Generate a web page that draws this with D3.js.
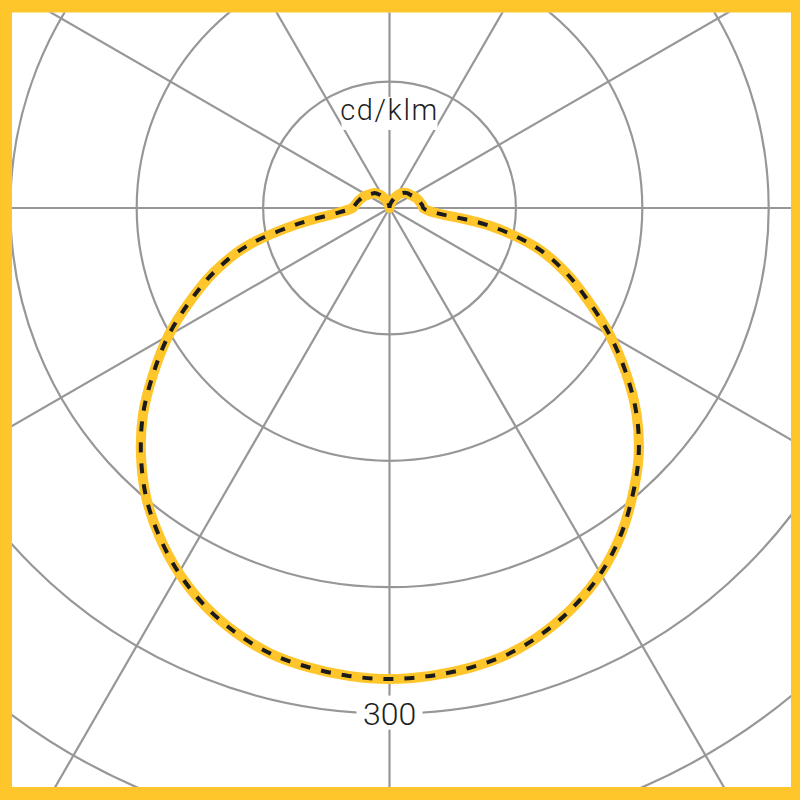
<!DOCTYPE html>
<html>
<head>
<meta charset="utf-8">
<script src="https://cdn.jsdelivr.net/npm/d3@7"></script>
<style>
  body { margin: 0; background: #fff; }
  svg { display: block; }
</style>
</head>
<body>
<svg id="chart" width="800" height="800"></svg>
<script>
// the data: gamma angle from nadir (deg) and intensity in cd/klm
const gammaDeg = [0, 5, 10, 15, 20, 25, 30, 35, 40, 45, 50, 55, 60, 65, 70, 75, 80, 85, 90,
  95, 100, 105, 110, 115, 120, 125, 130, 135, 140, 145, 150, 155, 160, 165, 170, 175, 180];
const cdRight = [279.5, 278.7, 276.9, 273.8, 268, 260.2, 250.5, 238.4, 224, 209, 191.5, 171.5, 151, 130, 111, 90, 60, 25, 20,
  19.5, 18.5, 17.8, 17, 16, 15, 14.3, 13.7, 12.8, 11.5, 9.8, 8, 6, 4.3, 3, 2, 1, 0];
const cdLeft = [279.5, 278.7, 276.7, 273.6, 267.8, 260, 250, 238, 224.5, 208.5, 191, 171, 151.5, 130.5, 110.5, 88, 56, 30, 22,
  20.5, 19.5, 18.5, 17.5, 16.5, 15.3, 14.3, 13.3, 12.5, 11, 9.5, 7.5, 5.8, 4.2, 3, 2, 1, 0];

// grid
const ringValues = [75, 150, 225, 300, 375];
const ringLabels = [300];
const spokeDeg = [0, 30, 60, 90, 120, 150, 180, 210, 240, 270, 300, 330];
const unitLabel = "cd/klm";

const yellow = "#FFC62B";
const grey = "#979797";

const svg = d3.select("#chart");
const width = +svg.attr("width");
const height = +svg.attr("height");

const cx = 389.5, cy = 208;

// radial scale: 75 cd/klm per ring
const rScale = d3.scaleLinear().domain([0, 300]).range([0, 505.6]);

// yellow frame
svg.append("rect")
  .attr("width", width).attr("height", height)
  .attr("fill", yellow);

const inner = { x: 12, y: 12.5, w: 779, h: 774.5 };

svg.append("clipPath").attr("id", "clip")
  .append("rect")
  .attr("x", inner.x).attr("y", inner.y)
  .attr("width", inner.w).attr("height", inner.h);

svg.append("rect")
  .attr("x", inner.x).attr("y", inner.y)
  .attr("width", inner.w).attr("height", inner.h)
  .attr("fill", "#fff");

const g = svg.append("g").attr("clip-path", "url(#clip)");
const plot = g.append("g").attr("transform", `translate(${cx},${cy})`);

// spokes
plot.selectAll("line.spoke")
  .data(spokeDeg)
  .enter()
  .append("line")
  .attr("class", "spoke")
  .attr("x1", 0).attr("y1", 0)
  .attr("x2", d => 1200 * Math.sin(d * Math.PI / 180))
  .attr("y2", d => 1200 * Math.cos(d * Math.PI / 180))
  .attr("stroke", grey)
  .attr("stroke-width", 2.2);

// rings
plot.selectAll("circle.ring")
  .data(ringValues)
  .enter()
  .append("circle")
  .attr("class", "ring")
  .attr("r", d => rScale(d))
  .attr("fill", "none")
  .attr("stroke", grey)
  .attr("stroke-width", 2.2);

// ring labels (bottom of the ring, white box behind)
const lab = plot.selectAll("g.ringlabel")
  .data(ringLabels)
  .enter()
  .append("g")
  .attr("class", "ringlabel")
  .attr("transform", d => `translate(0,${rScale(d)})`);

lab.append("rect")
  .attr("x", -33).attr("y", -18)
  .attr("width", 66).attr("height", 34)
  .attr("fill", "#fff");

lab.append("text")
  .attr("text-anchor", "middle")
  .attr("y", 11)
  .attr("font-family", "Roboto, 'Liberation Sans', sans-serif")
  .attr("font-weight", 300)
  .attr("font-size", 32)
  .attr("fill", "#1e1e1e")
  .text(d => d);

// unit label
const unit = g.append("g").attr("transform", `translate(${cx},0)`);
unit.append("rect")
  .attr("x", -48).attr("y", 97)
  .attr("width", 96).attr("height", 33)
  .attr("fill", "#fff");
unit.append("text")
  .attr("text-anchor", "middle")
  .attr("y", 120)
  .attr("font-family", "Roboto, 'Liberation Sans', sans-serif")
  .attr("font-weight", 300)
  .attr("font-size", 29)
  .attr("letter-spacing", 1.6)
  .attr("fill", "#1e1e1e")
  .text(unitLabel);

// curve points: right side from 180 down to 0, then left side 0 up to 180
// lineRadial angle is clockwise from 12 o'clock, so nadir = 180
const pts = [];
for (let i = gammaDeg.length - 1; i >= 0; i--) {
  pts.push({ a: 180 - gammaDeg[i], v: cdRight[i] });
}
for (let i = 1; i < gammaDeg.length; i++) {
  pts.push({ a: 180 + gammaDeg[i], v: cdLeft[i] });
}

const line = d3.lineRadial()
  .angle(d => d.a * Math.PI / 180)
  .radius(d => rScale(d.v))
  .curve(d3.curveCatmullRom);

plot.append("path")
  .attr("d", line(pts))
  .attr("fill", "none")
  .attr("stroke", yellow)
  .attr("stroke-width", 10)
  .attr("stroke-linejoin", "round")
  .attr("stroke-linecap", "round");

plot.append("path")
  .attr("d", line(pts))
  .attr("fill", "none")
  .attr("stroke", "#1b1b1b")
  .attr("stroke-width", 4)
  .attr("stroke-dasharray", "10 11");
</script>
</body>
</html>
